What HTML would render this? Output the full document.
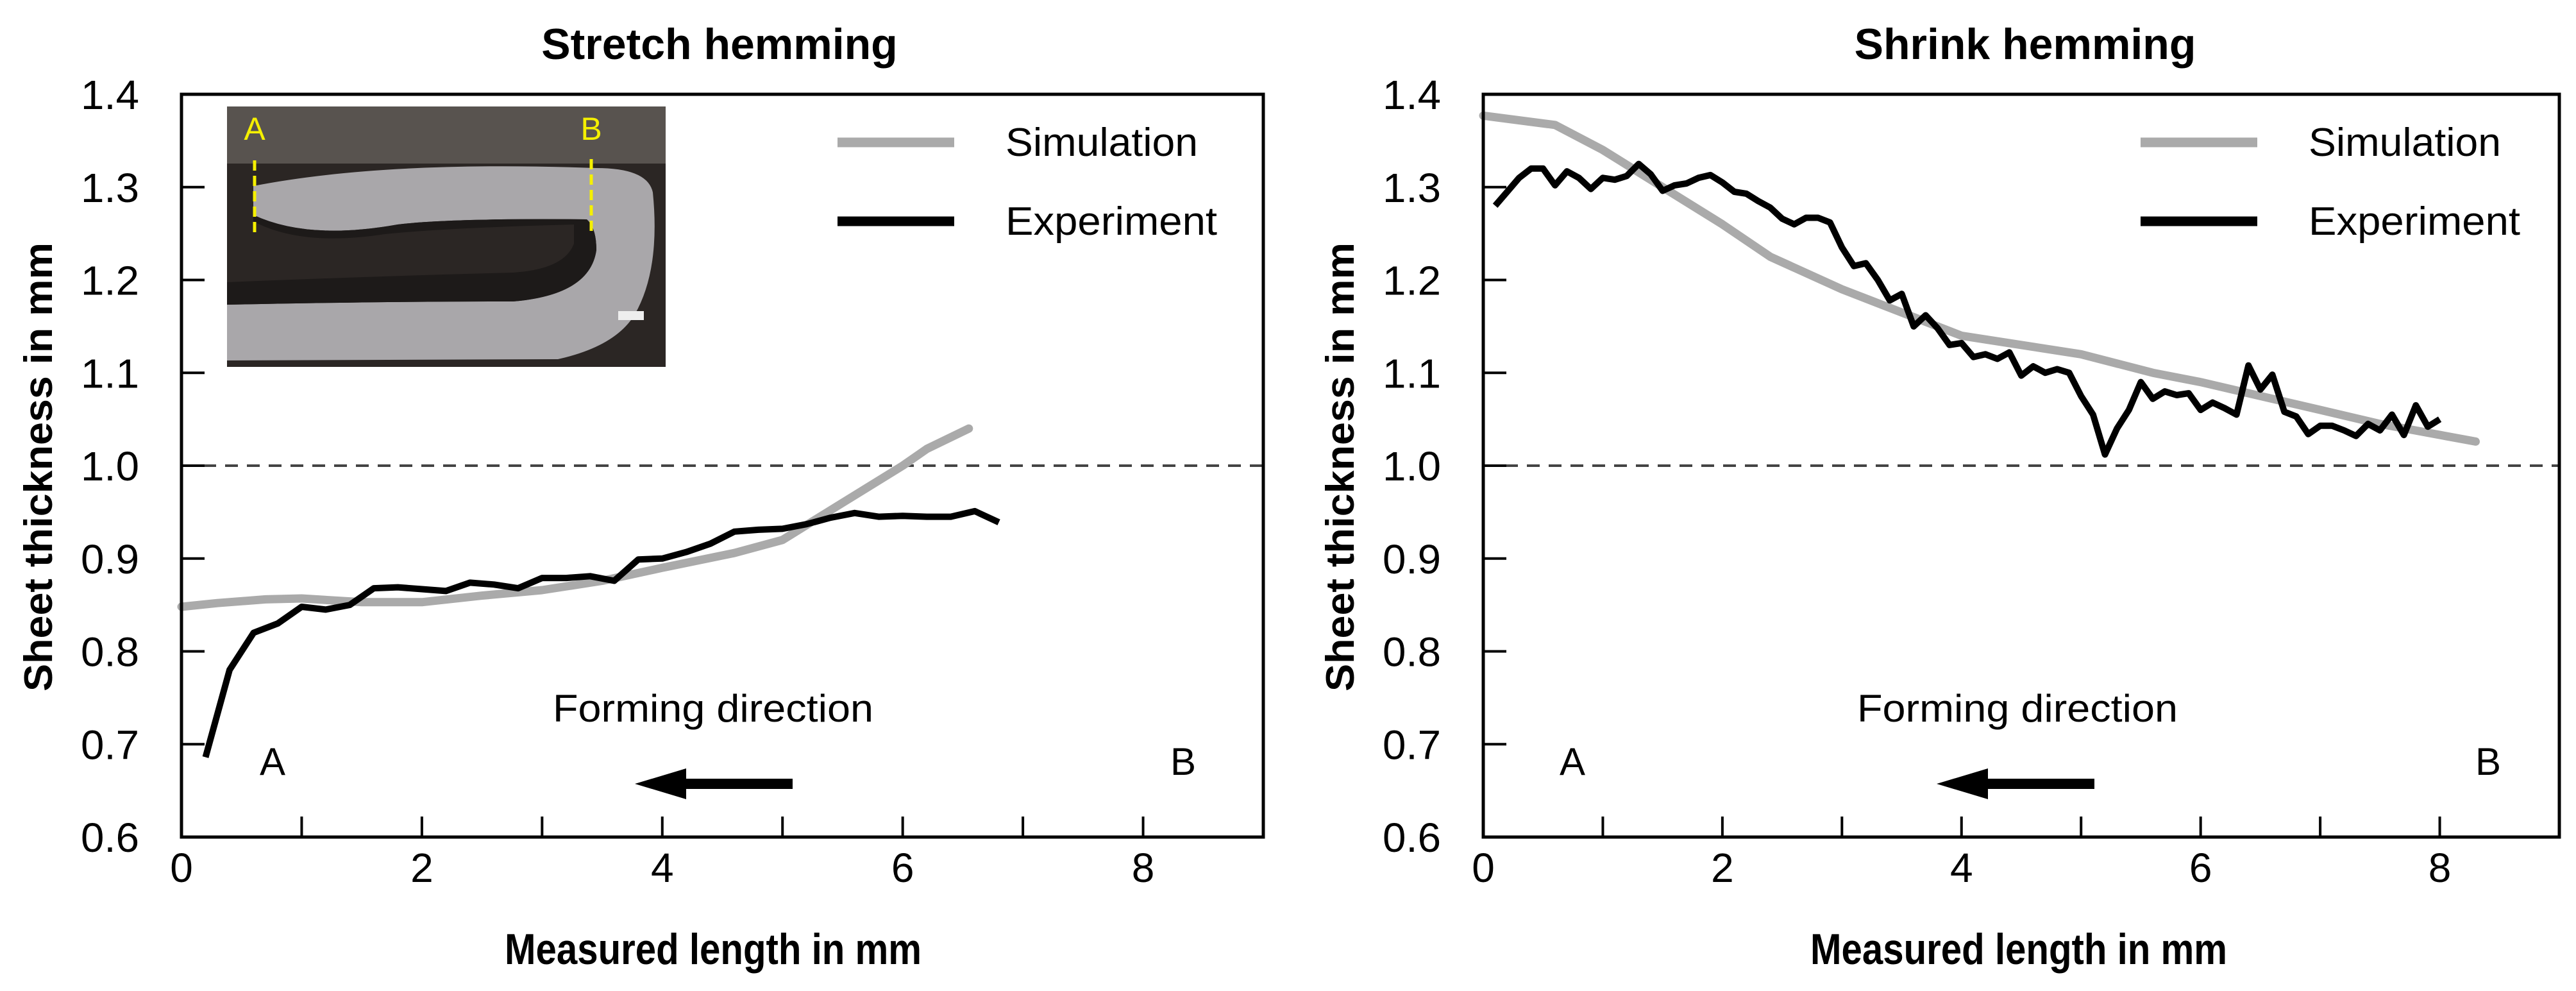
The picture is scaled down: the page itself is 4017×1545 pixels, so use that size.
<!DOCTYPE html>
<html><head><meta charset="utf-8"><style>
html,body{margin:0;padding:0;background:#fff;}
svg{display:block;font-family:"Liberation Sans",Arial,sans-serif;}
</style></head><body>
<svg id="fig" width="4017" height="1545" viewBox="0 0 4017 1545" xmlns="http://www.w3.org/2000/svg">
<g id="left"></g>
<g id="right"></g>
</svg>
<script>
const xTicks = [0,1,2,3,4,5,6,7,8];
const xTickLabels = ["0","","2","","4","","6","","8"];
const yTicks = [0.6,0.7,0.8,0.9,1.0,1.1,1.2,1.3,1.4];
const yTickLabels = ["0.6","0.7","0.8","0.9","1.0","1.1","1.2","1.3","1.4"];

const stretchSimX = [0,0.3,0.7,1,1.5,2,2.5,3,3.5,4,4.6,5,5.5,6,6.2,6.55];
const stretchSimY = [0.848,0.852,0.856,0.857,0.853,0.853,0.86,0.866,0.876,0.89,0.906,0.92,0.96,1.0,1.018,1.04];
const stretchExpX = [0.2,0.4,0.6,0.8,1.0,1.2,1.4,1.6,1.8,2.0,2.2,2.4,2.6,2.8,3.0,3.2,3.4,3.6,3.8,4.0,4.2,4.4,4.6,4.8,5.0,5.2,5.4,5.6,5.8,6.0,6.2,6.4,6.6,6.8];
const stretchExpY = [0.686,0.78,0.82,0.83,0.848,0.845,0.85,0.868,0.869,0.867,0.865,0.874,0.872,0.868,0.879,0.879,0.881,0.876,0.899,0.9,0.907,0.916,0.929,0.931,0.932,0.937,0.944,0.949,0.945,0.946,0.945,0.945,0.951,0.939];

const shrinkSimX = [0,0.6,1,1.5,2,2.4,3,3.5,4,5,5.6,6,6.5,7,7.5,8.3];
const shrinkSimY = [1.377,1.367,1.34,1.3,1.26,1.225,1.19,1.165,1.14,1.12,1.1,1.09,1.075,1.06,1.045,1.026];
const shrinkExpX = [0.1,0.2,0.3,0.4,0.5,0.6,0.7,0.8,0.9,1.0,1.1,1.2,1.3,1.4,1.5,1.6,1.7,1.8,1.9,2.0,2.1,2.2,2.3,2.4,2.5,2.6,2.7,2.8,2.9,3.0,3.1,3.2,3.3,3.4,3.5,3.6,3.7,3.8,3.9,4.0,4.1,4.2,4.3,4.4,4.5,4.6,4.7,4.8,4.9,5.0,5.1,5.2,5.3,5.4,5.5,5.6,5.7,5.8,5.9,6.0,6.1,6.2,6.3,6.4,6.5,6.6,6.7,6.8,6.9,7.0,7.1,7.2,7.3,7.4,7.5,7.6,7.7,7.8,7.9,8.0];
const shrinkExpY = [1.28,1.295,1.31,1.32,1.32,1.302,1.317,1.31,1.298,1.31,1.308,1.312,1.325,1.314,1.296,1.302,1.304,1.31,1.313,1.305,1.295,1.293,1.285,1.278,1.266,1.26,1.267,1.267,1.262,1.235,1.215,1.218,1.2,1.178,1.185,1.15,1.162,1.148,1.13,1.132,1.117,1.12,1.115,1.122,1.097,1.107,1.1,1.104,1.1,1.075,1.055,1.012,1.04,1.06,1.09,1.072,1.08,1.076,1.078,1.06,1.068,1.062,1.055,1.108,1.082,1.098,1.058,1.053,1.034,1.043,1.043,1.038,1.032,1.045,1.038,1.055,1.033,1.065,1.042,1.05];

const NS = "http://www.w3.org/2000/svg";
function mk(parent, tag, attrs, text){
  const e = document.createElementNS(NS, tag);
  for (const k in attrs) e.setAttribute(k, attrs[k]);
  if (text !== undefined) e.textContent = text;
  parent.appendChild(e);
  return e;
}

function drawChart(g, cfg){
  const x0 = cfg.x0, x1 = cfg.x1, yTop = 147, yBot = 1305;
  const sx = v => x0 + (v/9)*(x1-x0);
  const sy = v => yBot - (v-0.6)/0.8*(yBot-yTop);

  let t = mk(g,'text',{x:cfg.titleX,y:92,'text-anchor':'middle','font-size':68,'font-weight':'bold'},cfg.title);
  
  

  t = mk(g,'text',{x:0,y:0,'text-anchor':'middle','font-size':62,'font-weight':'bold',textLength:700,lengthAdjust:'spacingAndGlyphs',transform:`translate(${x0-202},728) rotate(-90)`},'Sheet thickness in mm');
  
  

  t = mk(g,'text',{x:cfg.titleX-10,y:1503,'text-anchor':'middle','font-size':68,'font-weight':'bold',textLength:650,lengthAdjust:'spacingAndGlyphs'},'Measured length in mm');
  
  

  if (cfg.inset){
    const ig = mk(g,'g',{});
    
    
    mk(ig,'rect',{x:354,y:166,width:684,height:406,fill:'#58534f'});
    mk(ig,'rect',{x:354,y:255,width:684,height:317,fill:'#2b2624'});
    mk(ig,'path',{d:'M395 290 Q600 250 930 262 Q1010 262 1018 300 Q1030 420 990 490 Q960 540 870 560 L354 562 L354 475 Q600 470 800 470 Q920 460 930 390 Q930 355 915 342 Q700 340 620 350 Q480 375 395 335 Z',fill:'#a9a7aa'});
    mk(ig,'path',{d:'M395 335 Q480 375 620 350 Q700 340 915 342 Q930 355 930 390 Q920 460 800 470 Q600 470 354 475 L354 440 Q600 430 800 425 Q880 420 895 380 L895 350 Q700 355 600 365 Q470 385 395 345 Z',fill:'#1d1a19'});
    mk(ig,'line',{x1:397,y1:250,x2:397,y2:365,stroke:'#f5f000','stroke-width':5,'stroke-dasharray':'16 8'});
    mk(ig,'line',{x1:922,y1:248,x2:922,y2:360,stroke:'#f5f000','stroke-width':5,'stroke-dasharray':'16 8'});
    mk(ig,'text',{x:397,y:218,'text-anchor':'middle','font-size':50,fill:'#f5f000'},'A');
    mk(ig,'text',{x:922,y:218,'text-anchor':'middle','font-size':50,fill:'#f5f000'},'B');
    mk(ig,'rect',{x:964,y:485,width:40,height:14,fill:'#eee'});
  }

  let d = mk(g,'line',{x1:x0,y1:sy(1.0),x2:x1,y2:sy(1.0),stroke:'#444','stroke-width':4,'stroke-dasharray':'20 14'});
  
  

  xTicks.forEach((v,i)=>{
    if (i>0 && i<9){
      const tk = mk(g,'line',{x1:sx(v),y1:yBot,x2:sx(v),y2:yBot-32,stroke:'#000','stroke-width':4});
      
      
    }
    if (xTickLabels[i]){
      const lb = mk(g,'text',{x:sx(v),y:1375,'text-anchor':'middle','font-size':64},xTickLabels[i]);
      
      
    }
  });
  yTicks.forEach((v,i)=>{
    if (i>0 && i<yTicks.length-1){
      const tk = mk(g,'line',{x1:x0,y1:sy(v),x2:x0+36,y2:sy(v),stroke:'#000','stroke-width':4});
      
      
    }
    const lb = mk(g,'text',{x:x0-66,y:sy(v)+23,'text-anchor':'end','font-size':64,textLength:91,lengthAdjust:'spacingAndGlyphs'},yTickLabels[i]);
    
    
  });

  const pts = (xs,ys)=>xs.map((x,i)=>sx(x).toFixed(1)+','+sy(ys[i]).toFixed(1)).join(' ');
  let s = mk(g,'polyline',{points:pts(cfg.simX,cfg.simY),fill:'none',stroke:'#aaaaaa','stroke-width':13,'stroke-linejoin':'round','stroke-linecap':'round'});
  
  
  s = mk(g,'polyline',{points:pts(cfg.expX,cfg.expY),fill:'none',stroke:'#000','stroke-width':10,'stroke-linejoin':'round'});
  
  

  const fr = mk(g,'rect',{x:x0,y:yTop,width:x1-x0,height:yBot-yTop,fill:'none',stroke:'#000','stroke-width':5});
  
  

  const lg = mk(g,'g',{});
  
  
  mk(lg,'line',{x1:cfg.legX,y1:222,x2:cfg.legX+182,y2:222,stroke:'#aaaaaa','stroke-width':15});
  mk(lg,'text',{x:cfg.legX+262,y:243,'font-size':62,textLength:cfg.simLen,lengthAdjust:'spacingAndGlyphs'},'Simulation');
  mk(lg,'line',{x1:cfg.legX,y1:345,x2:cfg.legX+182,y2:345,stroke:'#000','stroke-width':15});
  mk(lg,'text',{x:cfg.legX+262,y:366,'font-size':62,textLength:cfg.expLen,lengthAdjust:'spacingAndGlyphs'},'Experiment');

  let a = mk(g,'text',{x:cfg.formX,y:1125,'text-anchor':'middle','font-size':60,textLength:500,lengthAdjust:'spacingAndGlyphs'},'Forming direction');
  
  
  a = mk(g,'text',{x:cfg.aX,y:1208,'text-anchor':'middle','font-size':60},'A');
  
  
  a = mk(g,'text',{x:cfg.bX,y:1208,'text-anchor':'middle','font-size':60},'B');
  
  
  const ax = cfg.arrowX;
  a = mk(g,'path',{d:`M${ax} 1222 L${ax+80} 1198 L${ax+80} 1214 L${ax+246} 1214 L${ax+246} 1230 L${ax+80} 1230 L${ax+80} 1246 Z`,fill:'#000'});
  
  
}

drawChart(document.getElementById('left'),{x0:283,x1:1970,title:'Stretch hemming',titleX:1122,inset:true,
  simX:stretchSimX,simY:stretchSimY,expX:stretchExpX,expY:stretchExpY,legX:1306,simLen:300,expLen:330,
  formX:1112,aX:425,bX:1845,arrowX:990});
drawChart(document.getElementById('right'),{x0:2313,x1:3991,title:'Shrink hemming',titleX:3158,inset:false,
  simX:shrinkSimX,simY:shrinkSimY,expX:shrinkExpX,expY:shrinkExpY,legX:3338,simLen:300,expLen:330,
  formX:3146,aX:2452,bX:3880,arrowX:3020});
</script>
</body></html>
